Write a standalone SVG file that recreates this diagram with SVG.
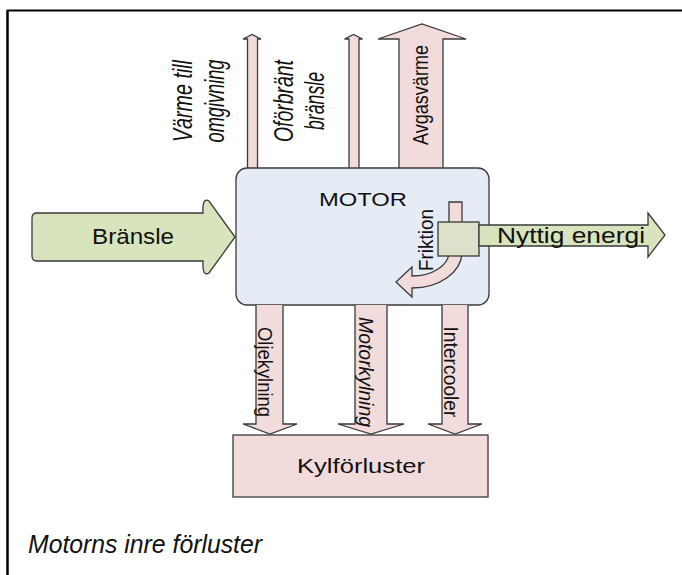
<svg xmlns="http://www.w3.org/2000/svg" width="682" height="575" viewBox="0 0 682 575">
  <defs>
    <style>
      .pink { fill: #f2dcdb; stroke: #3a3a3a; stroke-width: 1.3; stroke-linejoin: miter; }
      .green { fill: #d7e4bd; stroke: #3a3a3a; stroke-width: 1.3; }
      .motor { fill: #e6ecf6; stroke: #3a3a3a; stroke-width: 1.3; }
      .lbl { font-family: "Liberation Sans", Arial, sans-serif; fill: #111; }
      .cal { font-family: "Liberation Sans Narrow", "Liberation Sans", Arial, sans-serif; fill: #111; }
      .it { font-style: italic; }
    </style>
  </defs>

  <rect width="682" height="575" fill="#ffffff"/>

  <!-- outer frame: top and left rules only -->
  <g id="frame" stroke="#000" fill="none">
    <line x1="7" y1="10.5" x2="682" y2="10.5" stroke-width="2"/>
    <line x1="7.5" y1="10" x2="7.5" y2="575" stroke-width="2.5"/>
  </g>

  <!-- flows leaving / entering the engine -->
  <g id="connectors">
    <!-- heat to surroundings -->
    <path class="pink" d="M247.5,168 V39 H243 L252,34.5 L261,39 H257.5 V168"/>
    <!-- unburnt fuel -->
    <path class="pink" d="M349,168 V39 H344.5 L353.5,34.5 L362.5,39 H359 V168"/>
    <!-- exhaust heat -->
    <path class="pink" d="M399,168 V39 H378 L422,24 L466,39 H443 V168"/>
    <!-- fuel in -->
    <path class="green" d="M37,213 H203 Q202,197 209,201 L235,237 L209,273 Q202,277 203,261 H37 Q32,261 32,256 V218 Q32,213 37,213 Z"/>
  </g>

  <g id="motor">
    <rect class="motor" x="236" y="168" width="253" height="137" rx="11"/>
    <text class="cal" x="363" y="206" font-size="18" text-anchor="middle" textLength="88" lengthAdjust="spacingAndGlyphs">MOTOR</text>
  </g>

  <g id="cooling-flows">
    <path class="pink" d="M256,305 V424 H243 L270,434 L297,424 H283 V305"/>
    <path class="pink" d="M355,305 V424 H338 L371,434 L404,424 H387 V305"/>
    <path class="pink" d="M442,305 V424 H428 L455,434 L482,424 H468 V305"/>
  </g>

  <g id="kylforluster">
    <rect class="pink" x="233" y="435" width="255" height="62"/>
    <text class="cal" x="361" y="473" font-size="21" text-anchor="middle" textLength="128" lengthAdjust="spacingAndGlyphs">Kylförluster</text>
  </g>

  <!-- friction: curved arrow inside the engine -->
  <g id="friktion">
    <path class="pink" d="M449,202 H462 V252 A50,36 0 0 1 412,288 V297 L396,282 L412,267 V276 A37,24 0 0 0 449,252 Z"/>
    <text class="cal" transform="translate(433,240) rotate(-90)" font-size="21" text-anchor="middle" textLength="62" lengthAdjust="spacingAndGlyphs">Friktion</text>
  </g>

  <!-- useful energy out -->
  <g id="nyttig-energi">
    <rect x="438" y="222" width="41" height="34" fill="#dce2ca" stroke="#3a3a3a" stroke-width="1.3"/>
    <path class="green" d="M479,225 H648 V213 L665,235 L648,257 V246 H479 Z"/>
    <text class="cal" x="571" y="243" font-size="22" text-anchor="middle" textLength="148" lengthAdjust="spacingAndGlyphs">Nyttig energi</text>
  </g>

  <g id="bransle-label">
    <text class="cal" x="133" y="244" font-size="22" text-anchor="middle" textLength="82" lengthAdjust="spacingAndGlyphs">Bränsle</text>
  </g>

  <!-- rotated labels beside the upward flows -->
  <g id="upper-labels">
    <text class="cal it" transform="translate(192,101) rotate(-90)" font-size="27" text-anchor="middle" textLength="82" lengthAdjust="spacingAndGlyphs">Värme till</text>
    <text class="cal it" transform="translate(224,101) rotate(-90)" font-size="27" text-anchor="middle" textLength="83" lengthAdjust="spacingAndGlyphs">omgivning</text>
    <text class="cal it" transform="translate(293,101) rotate(-90)" font-size="27" text-anchor="middle" textLength="82" lengthAdjust="spacingAndGlyphs">Oförbränt</text>
    <text class="cal it" transform="translate(324,101) rotate(-90)" font-size="27" text-anchor="middle" textLength="58" lengthAdjust="spacingAndGlyphs">bränsle</text>
    <text class="cal" transform="translate(428,95) rotate(-90)" font-size="22" text-anchor="middle" textLength="100" lengthAdjust="spacingAndGlyphs">Avgasvärme</text>
  </g>

  <!-- rotated labels on the cooling flows -->
  <g id="lower-labels">
    <text class="lbl" transform="translate(258,372) rotate(90)" font-size="20" text-anchor="middle" textLength="90" lengthAdjust="spacingAndGlyphs">Oljekylning</text>
    <text class="lbl it" transform="translate(359,372) rotate(90)" font-size="21" text-anchor="middle" textLength="110" lengthAdjust="spacingAndGlyphs">Motorkylning</text>
    <text class="lbl" transform="translate(444,372) rotate(90)" font-size="20" text-anchor="middle" textLength="91" lengthAdjust="spacingAndGlyphs">Intercooler</text>
  </g>

  <g id="caption">
    <text class="cal it" x="28" y="553" font-size="26" textLength="234" lengthAdjust="spacingAndGlyphs">Motorns inre förluster</text>
  </g>
</svg>
